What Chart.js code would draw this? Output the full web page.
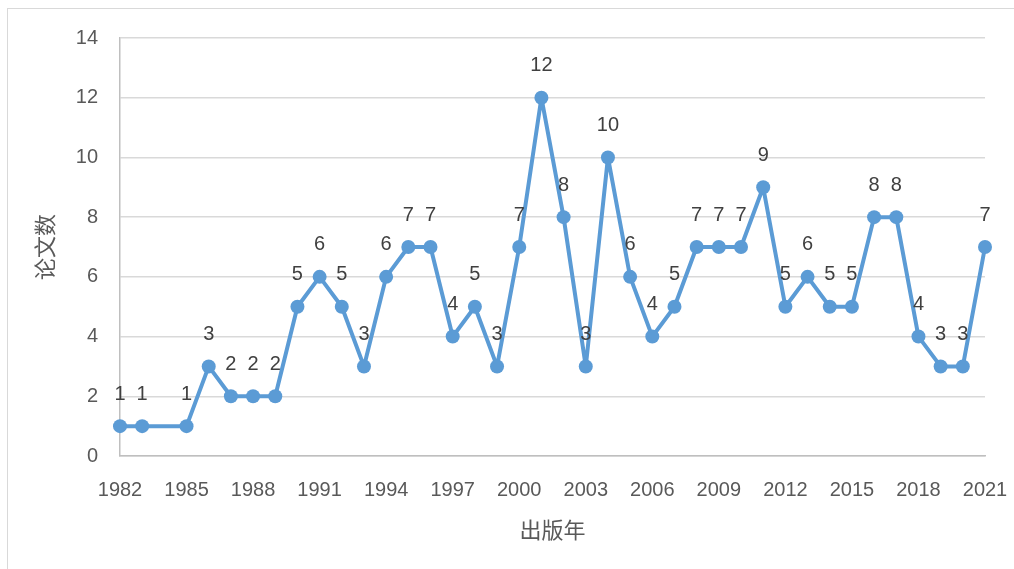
<!DOCTYPE html>
<html>
<head>
<meta charset="utf-8">
<script src="https://cdn.jsdelivr.net/npm/chart.js@4/dist/chart.umd.min.js"></script>
<style>
  html, body { margin: 0; padding: 0; background: #fff; overflow: hidden; }
  #wrap { position: relative; width: 1014px; height: 569px; overflow: hidden; }
  #frame {
    position: absolute; left: 7px; top: 8px; width: 1020px; height: 580px;
    border: 1.5px solid #d9d9d9; box-sizing: border-box; pointer-events: none;
  }
</style>
</head>
<body>
<div id="wrap">
  <canvas id="chart" width="1014" height="569"></canvas>
  <div id="frame"></div>
</div>
<script>
"use strict";

// 出版年（1984 年无数据）
const years = [
  1982, 1983, 1985, 1986, 1987, 1988, 1989, 1990, 1991, 1992,
  1993, 1994, 1995, 1996, 1997, 1998, 1999, 2000, 2001, 2002,
  2003, 2004, 2005, 2006, 2007, 2008, 2009, 2010, 2011, 2012,
  2013, 2014, 2015, 2016, 2017, 2018, 2019, 2020, 2021,
];
// 论文数
const counts = [
  1, 1, 1, 3, 2, 2, 2, 5, 6, 5,
  3, 6, 7, 7, 4, 5, 3, 7, 12, 8,
  3, 10, 6, 4, 5, 7, 7, 7, 9, 5,
  6, 5, 5, 8, 8, 4, 3, 3, 7,
];

const X_TITLE = "出版年";
const Y_TITLE = "论文数";
const LINE_COLOR = "#5b9bd5";
const TICK_FONT = { family: "Liberation Sans", size: 20 };
const CJK_FONT  = { family: "Noto Sans CJK SC", size: 22 };

// 数据标签：画在每个点的上方
const pointLabels = {
  id: "pointLabels",
  afterDatasetsDraw(chart) {
    const ctx = chart.ctx;
    const meta = chart.getDatasetMeta(0);
    ctx.save();
    ctx.font = `${TICK_FONT.size}px "${TICK_FONT.family}"`;
    ctx.fillStyle = "#404040";
    ctx.textAlign = "center";
    ctx.textBaseline = "middle";
    meta.data.forEach((pt, i) => {
      ctx.fillText(String(counts[i]), pt.x, pt.y - 32);
    });
    ctx.restore();
  },
};

new Chart(document.getElementById("chart").getContext("2d"), {
  type: "line",
  data: {
    datasets: [{
      data: years.map((y, i) => ({ x: y, y: counts[i] })),
      borderColor: LINE_COLOR,
      backgroundColor: LINE_COLOR,
      borderWidth: 4,
      borderJoinStyle: "round",
      pointRadius: 7,
      pointBackgroundColor: LINE_COLOR,
      pointBorderWidth: 0,
      tension: 0,
      fill: false,
      clip: false,
    }],
  },
  options: {
    responsive: false,
    animation: false,
    layout: { padding: { top: 38, right: 29, left: 0, bottom: 0 } },
    plugins: { legend: { display: false }, tooltip: { enabled: false } },
    scales: {
      x: {
        type: "linear",
        min: 1982, max: 2021,
        ticks: {
          stepSize: 3, autoSkip: false, maxRotation: 0, padding: 22,
          color: "#595959", font: TICK_FONT,
          callback: v => String(v),
        },
        grid: { display: false, drawTicks: false },
        border: { display: true, color: "#bfbfbf", width: 1.5 },
        title: {
          display: true, text: X_TITLE, color: "#595959", font: CJK_FONT,
          padding: { top: 0, bottom: 26 },
        },
        afterFit(scale) {
          scale.height = 113;
          scale.paddingLeft = 0;
          scale.paddingRight = 0;
        },
      },
      y: {
        min: 0, max: 14,
        ticks: {
          stepSize: 2, padding: 22, color: "#595959", font: TICK_FONT,
        },
        grid: { color: "#d9d9d9", lineWidth: 1.5, drawTicks: false },
        border: { display: true, color: "#bfbfbf", width: 1.5 },
        title: {
          display: true, text: Y_TITLE, color: "#595959", font: CJK_FONT,
          padding: { top: 31, bottom: 0 },
        },
        afterFit(scale) {
          scale.width = 120;
          scale.paddingTop = 0;
          scale.paddingBottom = 0;
        },
      },
    },
  },
  plugins: [pointLabels],
});
</script>
</body>
</html>
